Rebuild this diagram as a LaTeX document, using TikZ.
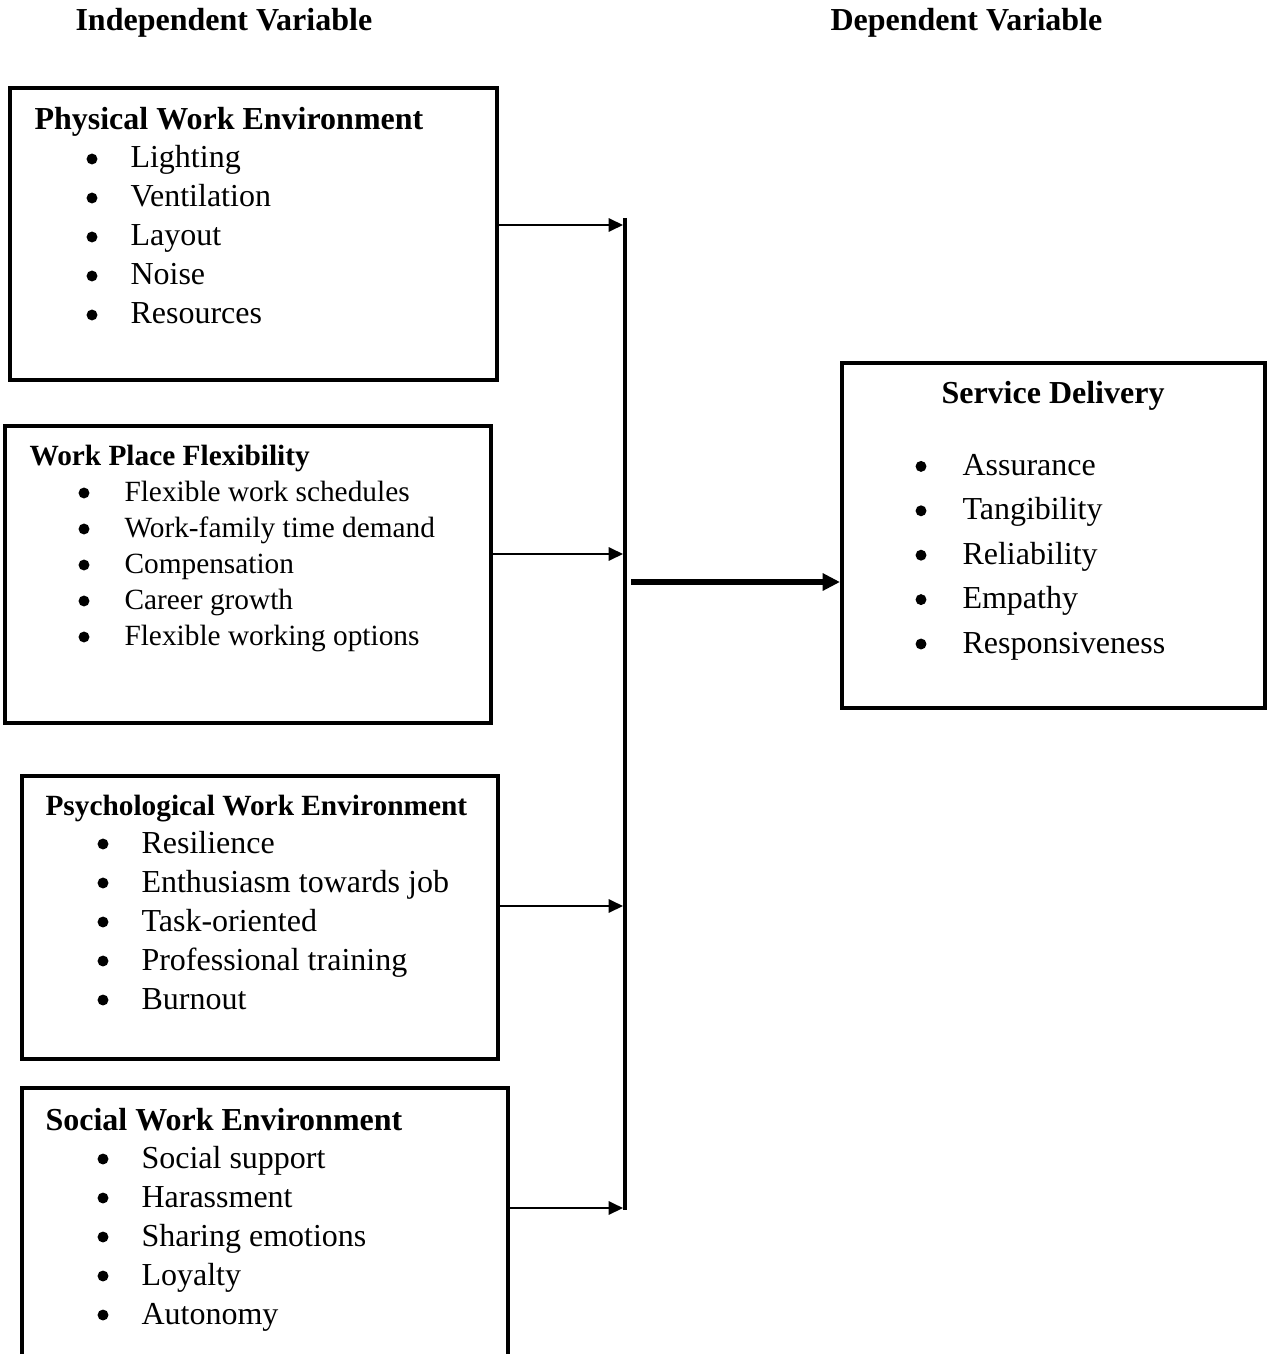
\documentclass[tikz,border=0pt]{standalone}
\usepackage{fontspec}
\setmainfont{Liberation Serif}
\usetikzlibrary{arrows.meta,fit}
\definecolor{frameblack}{RGB}{0,0,0}
\newcommand{\boxfont}{\fontsize{12}{14}\selectfont}
\newcommand{\boxfontsm}{\fontsize{11}{13}\selectfont}
\tikzset{
  box/.style={draw=frameblack,line width=1.5pt,inner sep=0pt},
  head/.style={anchor=base west,inner sep=0pt,font=\boxfont\bfseries},
  item/.style={anchor=base west,inner sep=0pt,font=\boxfont},
  dot/.style={circle,fill=frameblack,inner sep=0pt,minimum size=4.1pt},
  feed/.style={-{Triangle[length=5.4pt,width=5pt]},line width=0.8pt},
}

\begin{document}
\begin{tikzpicture}[x=0.375pt,y=-0.375pt,line join=miter]
\useasboundingbox (0,0) rectangle (1272,1354);
\clip (0,0) rectangle (1272,1354);
% titles
\node[head] (iv) at (75,31) {Independent Variable};
\node[head] (dv) at (830,31) {Dependent Variable};
% boxes
\foreach \nm/\xa/\ya/\xb/\yb in {pwe/10/88/497/380,wpf/5/426/491/723,
  psy/22/776/498/1059,swe/22/1088/508/1362,sd/842/363/1265/708}
  \node[box,fit={(\xa,\ya) (\xb,\yb)}] (\nm) {};
% headings
\node[head] (pwe-h) at (34,130) {Physical Work Environment};
\node[head,font=\boxfontsm\bfseries] (wpf-h) at (29,465) {Work Place Flexibility};
\node[head,font=\boxfontsm\bfseries] (psy-h) at (45,815) {Psychological Work Environment};
\node[head] (swe-h) at (45,1130) {Social Work Environment};
\node[head,anchor=base] (sd-h) at (1053,404) {Service Delivery};
% bullet lists
\foreach \t [count=\i] in {Lighting,Ventilation,Layout,Noise,Resources}{
  \node[item] (pwe-\i) at (130,{129+39*\i}) {\t};
  \node[dot] at (92,{120+39*\i}) {};}
\foreach \t [count=\i] in {Flexible work schedules,Work-family time demand,
  Compensation,Career growth,Flexible working options}{
  \node[item,font=\boxfontsm] (wpf-\i) at (124,{465+36*\i}) {\t};
  \node[dot] at (84,{457+36*\i}) {};}
\foreach \t [count=\i] in {Resilience,Enthusiasm towards job,Task-oriented,
  Professional training,Burnout}{
  \node[item] (psy-\i) at (141,{814+39*\i}) {\t};
  \node[dot] at (103,{805+39*\i}) {};}
\foreach \t [count=\i] in {Social support,Harassment,Sharing emotions,Loyalty,Autonomy}{
  \node[item] (swe-\i) at (141,{1129+39*\i}) {\t};
  \node[dot] at (103,{1120+39*\i}) {};}
\foreach \t [count=\i] in {Assurance,Tangibility,Reliability,Empathy,Responsiveness}{
  \node[item] (sd-\i) at (962,{431+44.4*\i}) {\t};
  \node[dot] at (921,{422+44.4*\i}) {};}
% collecting bar and arrows
\coordinate (bartop) at (625,218);
\coordinate (barbot) at (625,1210);
\draw[line width=1.5pt] (bartop) -- (barbot);
\coordinate (in1) at (623,225);
\coordinate (in2) at (623,554);
\coordinate (in3) at (623,906);
\coordinate (in4) at (623,1208);
\draw[feed] (pwe.east |- in1) -- (in1);
\draw[feed] (wpf.east |- in2) -- (in2);
\draw[feed] (psy.east |- in3) -- (in3);
\draw[feed] (swe.east |- in4) -- (in4);
\coordinate (out) at (631,582);
\draw[-{Triangle[length=6.5pt,width=6.2pt]},line width=2pt] (out) -- (sd.west |- out);
\end{tikzpicture}
\end{document}
